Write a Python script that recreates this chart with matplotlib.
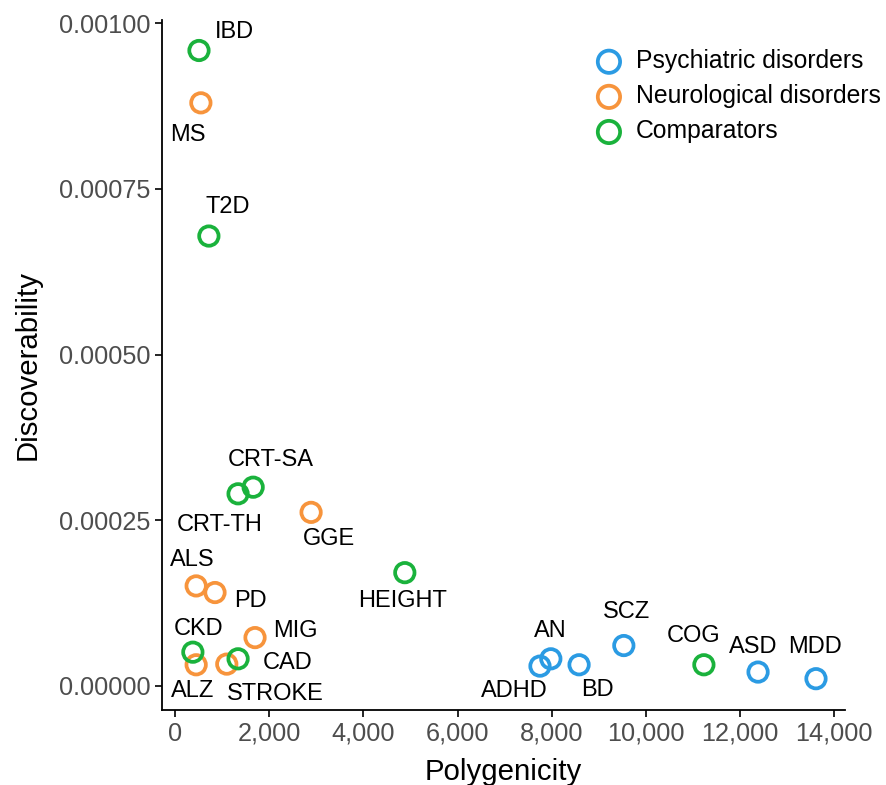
import matplotlib.pyplot as plt
from matplotlib.ticker import FuncFormatter

plt.rcParams["font.family"] = ["Liberation Sans", "DejaVu Sans"]

# Data
traits = ["IBD", "MS", "T2D", "CRT-SA", "CRT-TH", "GGE", "HEIGHT", "ALS", "PD",
          "MIG", "CKD", "ALZ", "STROKE", "CAD", "ADHD", "AN", "BD", "SCZ",
          "COG", "ASD", "MDD"]
groups = ["Comparators", "Neurological disorders", "Comparators", "Comparators",
          "Comparators", "Neurological disorders", "Comparators",
          "Neurological disorders", "Neurological disorders",
          "Neurological disorders", "Comparators", "Neurological disorders",
          "Neurological disorders", "Comparators", "Psychiatric disorders",
          "Psychiatric disorders", "Psychiatric disorders",
          "Psychiatric disorders", "Comparators", "Psychiatric disorders",
          "Psychiatric disorders"]
polygenicity = [510, 550, 720, 1660, 1340, 2890, 4880, 450, 850, 1700, 380, 450,
                1100, 1340, 7750, 7980, 8580, 9530, 11230, 12380, 13610]
discoverability = [0.000959, 0.000880, 0.000679, 0.000300, 0.000290, 0.000262,
                   0.000171, 0.000151, 0.000141, 0.000073, 0.000051, 0.000032,
                   0.000033, 0.000041, 0.000030, 0.000041, 0.000032, 0.000061,
                   0.000032, 0.000021, 0.000011]
# label offsets in pixels (dx, dy) from each point
label_dx = [35, -13, 19, 18, -18, 18, -2, -4, 35, 40, 6, -4, 49, 50, -26, -1, 18,
            3, -10, -5, -1]
label_dy = [18, -32, 29, 27, -31, -27, -28, 26, -8, 7, 23, -26, -30, -4, -25, 28,
            -25, 34, 29, 25, 32]

group_order = ["Psychiatric disorders", "Neurological disorders", "Comparators"]
group_colors = {"Psychiatric disorders": "#2b9be3",
                "Neurological disorders": "#f7943c",
                "Comparators": "#1ab23c"}

fig = plt.figure(figsize=(8.87, 7.85), dpi=100)
ax = fig.add_axes([0.1826, 0.0955, 0.77, 0.879])

for g in group_order:
    xs = [x for x, gg in zip(polygenicity, groups) if gg == g]
    ys = [y for y, gg in zip(discoverability, groups) if gg == g]
    ax.scatter(xs, ys, s=195, facecolors="none", edgecolors=group_colors[g],
               linewidths=2.7, label=g, zorder=3)

px = 0.72  # points per pixel at 100 dpi
for name, x, y, dx, dy in zip(traits, polygenicity, discoverability, label_dx, label_dy):
    ax.annotate(name, (x, y), xytext=(dx * px, dy * px), textcoords="offset points",
                ha="center", va="center", fontsize=17, color="black")

ax.set_xlim(-276, 14225)
ax.set_ylim(-0.0000363, 0.001005)
ax.set_xticks(range(0, 14001, 2000))
ax.set_yticks([0, 0.00025, 0.0005, 0.00075, 0.001])
ax.xaxis.set_major_formatter(FuncFormatter(lambda v, p: f"{int(v):,}"))
ax.yaxis.set_major_formatter(FuncFormatter(lambda v, p: f"{v:.5f}"))
ax.tick_params(labelsize=18.2, labelcolor="#4d4d4d", length=5, width=1.2,
               color="black")

for s in ["top", "right"]:
    ax.spines[s].set_visible(False)
for s in ["left", "bottom"]:
    ax.spines[s].set_linewidth(1.3)

ax.set_xlabel("Polygenicity", fontsize=21.2, labelpad=9)
ax.set_ylabel("Discoverability", fontsize=21.2, labelpad=12)

ax.legend(loc="upper left", bbox_to_anchor=(0.611, 0.972), frameon=False,
          fontsize=17.8, handletextpad=0.3, labelspacing=0.45, borderaxespad=0,
          scatterpoints=1, markerscale=1.15, handlelength=1.6)

fig.savefig("out.png", dpi=100)
